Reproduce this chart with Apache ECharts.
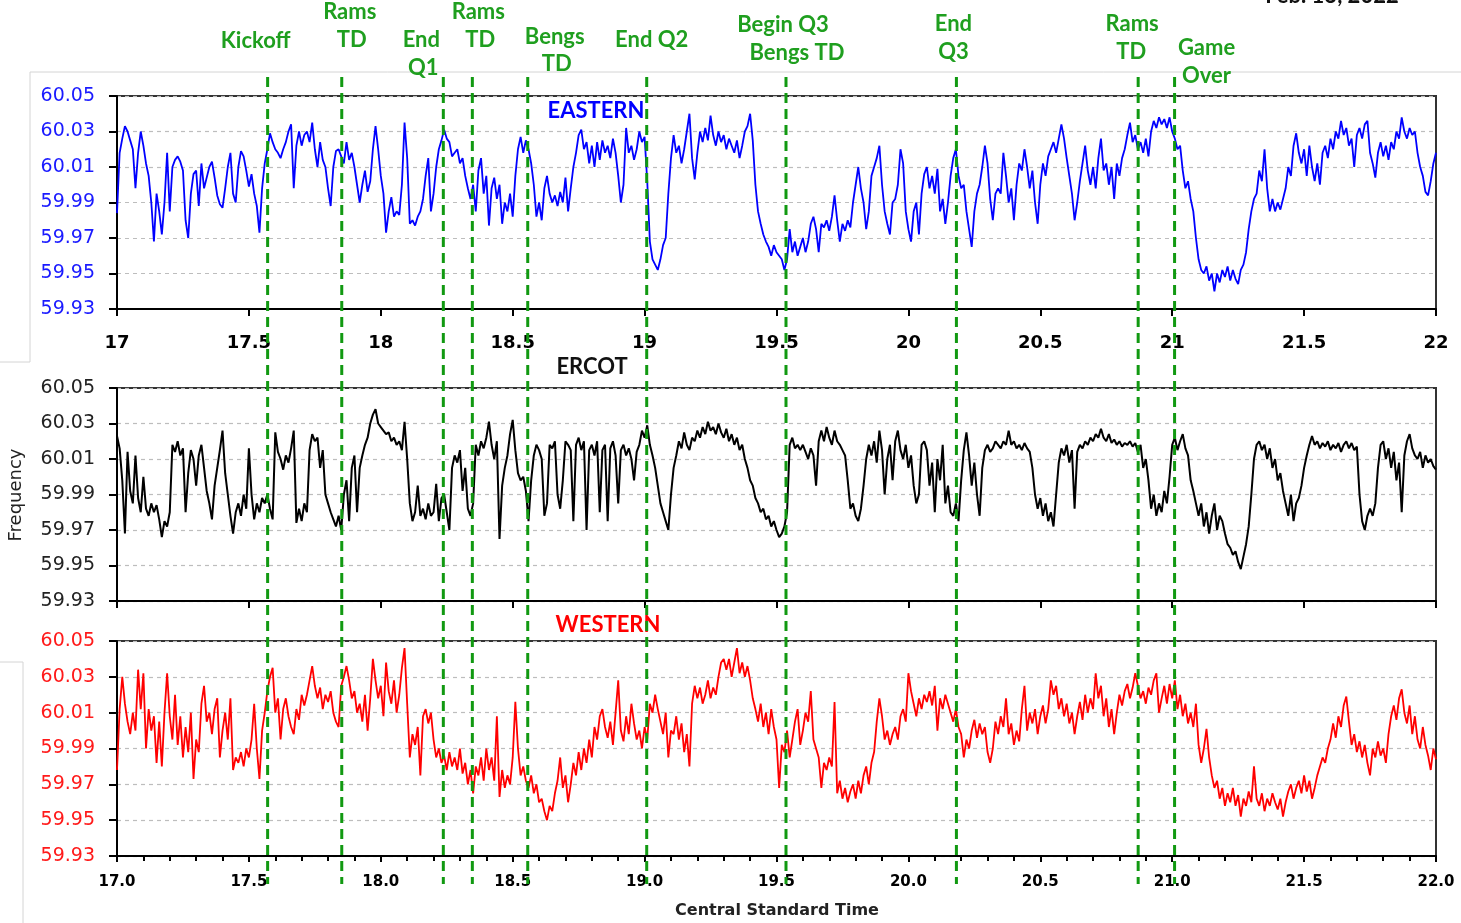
<!DOCTYPE html>
<html><head><meta charset="utf-8">
<script src="https://cdn.jsdelivr.net/npm/echarts@6/dist/echarts.min.js"></script>
<style>html,body{margin:0;padding:0;background:#fff}#chart{width:1461px;height:923px}</style>
</head><body><div id="chart"></div>
<script>
// ---- time base (hours, Central Standard Time) ----
const TIME_START = 17;
const TIME_STEP = 0.01;

// ---- frequency readings (Hz), one value per 0.01 h, 17.00 .. 22.00 ----
const easternHz = [
59.984,60.018,60.026,60.033,60.030,60.025,60.020,59.998,60.018,60.030,
60.022,60.012,60.005,59.990,59.968,59.995,59.985,59.972,59.990,60.018,
59.985,60.010,60.014,60.016,60.013,60.008,59.980,59.970,59.995,60.006,
60.008,59.988,60.012,59.998,60.004,60.010,60.013,60.004,59.994,59.989,
59.987,59.998,60.010,60.018,59.995,59.990,60.010,60.019,60.016,60.008,
59.999,60.006,59.995,59.988,59.973,59.998,60.012,60.020,60.029,60.024,
60.020,60.018,60.015,60.020,60.024,60.030,60.034,59.998,60.022,60.030,
60.022,60.028,60.030,60.024,60.035,60.020,60.010,60.024,60.014,60.010,
59.998,59.988,60.010,60.019,60.020,60.016,60.012,60.024,60.014,60.018,
60.010,60.000,59.990,60.000,60.008,59.996,60.002,60.020,60.033,60.020,
60.005,59.995,59.973,59.985,59.993,59.982,59.985,59.983,60.000,60.035,
60.015,59.978,59.980,59.977,59.982,59.985,59.992,60.005,60.015,59.985,
59.995,60.010,60.020,60.025,60.031,60.026,60.024,60.016,60.018,60.020,
60.012,60.015,60.005,59.998,59.992,60.000,59.985,60.008,60.015,59.995,
60.005,59.977,59.998,60.004,59.992,60.000,59.978,59.990,59.985,59.995,
59.982,60.005,60.020,60.027,60.018,60.025,60.020,60.012,60.000,59.982,
59.990,59.980,59.998,60.005,59.995,59.990,59.994,59.988,59.996,59.990,
60.004,59.985,59.998,60.010,60.018,60.028,60.031,60.020,60.024,60.012,
60.022,60.010,60.024,60.014,60.025,60.018,60.022,60.015,60.026,60.018,
60.005,59.990,60.000,60.032,60.018,60.022,60.014,60.020,60.030,60.024,
60.027,60.002,59.968,59.958,59.955,59.952,59.958,59.966,59.970,59.995,
60.015,60.028,60.018,60.022,60.012,60.020,60.030,60.040,60.015,60.003,
60.018,60.030,60.024,60.032,60.025,60.039,60.028,60.022,60.030,60.024,
60.028,60.020,60.026,60.022,60.018,60.025,60.015,60.022,60.030,60.033,
60.040,60.025,60.000,59.985,59.978,59.972,59.968,59.965,59.960,59.966,
59.962,59.960,59.958,59.952,59.958,59.975,59.962,59.968,59.960,59.965,
59.970,59.962,59.968,59.978,59.982,59.975,59.962,59.978,59.976,59.980,
59.974,59.982,59.994,59.980,59.968,59.978,59.974,59.980,59.976,59.990,
60.000,60.010,59.998,59.990,59.975,59.985,60.005,60.010,60.015,60.022,
60.000,59.985,59.978,59.972,59.990,59.992,60.000,60.020,60.012,59.985,
59.975,59.968,59.985,59.990,59.972,59.995,60.006,60.010,59.998,60.005,
59.995,60.009,59.985,59.992,59.978,59.990,60.005,60.015,60.020,60.005,
59.998,60.000,59.985,59.975,59.965,59.985,59.995,60.000,60.010,60.022,
60.012,59.992,59.980,59.995,59.998,59.995,60.018,60.005,59.990,59.998,
59.980,60.000,60.012,60.008,60.020,60.010,59.998,60.008,59.990,59.978,
60.000,60.012,60.005,60.016,60.020,60.024,60.018,60.026,60.034,60.026,
60.015,60.005,59.995,59.980,59.990,60.002,60.012,60.022,60.008,60.000,
60.010,59.998,60.015,60.026,60.008,60.012,60.000,60.010,59.992,60.012,
60.005,60.015,60.020,60.028,60.035,60.024,60.028,60.020,60.024,60.018,
60.026,60.016,60.030,60.036,60.032,60.038,60.034,60.037,60.032,60.038,
60.030,60.026,60.020,60.022,60.008,59.998,60.002,59.992,59.985,59.970,
59.958,59.952,59.950,59.954,59.946,59.950,59.940,59.950,59.945,59.952,
59.948,59.954,59.946,59.952,59.947,59.944,59.952,59.955,59.962,59.975,
59.985,59.992,59.995,60.008,60.002,60.020,59.998,59.985,59.992,59.985,
59.990,59.986,59.992,59.998,60.010,60.005,60.022,60.029,60.018,60.012,
60.020,60.005,60.022,60.010,60.002,60.012,60.000,60.018,60.022,60.015,
60.026,60.020,60.030,60.026,60.036,60.028,60.032,60.022,60.026,60.010,
60.028,60.032,60.026,60.034,60.036,60.018,60.012,60.004,60.018,60.024,
60.016,60.022,60.014,60.024,60.020,60.030,60.026,60.038,60.030,60.026,
60.032,60.028,60.030,60.018,60.010,60.005,59.996,59.994,60.002,60.012,
60.018];

const ercotHz = [
60.023,60.016,59.998,59.968,60.014,59.992,59.985,60.012,59.988,59.980,
60.000,59.982,59.978,59.985,59.980,59.984,59.976,59.966,59.975,59.972,
59.980,60.018,60.014,60.020,60.012,60.016,59.980,60.002,60.015,60.010,
59.995,60.012,60.018,60.005,59.992,59.985,59.976,59.995,60.005,60.015,
60.026,60.002,59.990,59.978,59.968,59.980,59.985,59.978,59.990,59.982,
60.016,59.990,59.976,59.985,59.980,59.988,59.985,59.990,59.982,59.976,
60.025,60.014,60.010,60.004,60.012,60.008,60.016,60.026,59.974,59.982,
59.975,59.985,59.980,60.015,60.024,60.020,60.022,60.005,60.015,59.990,
59.985,59.980,59.976,59.972,59.978,59.970,59.990,59.998,59.975,60.005,
60.012,59.980,60.005,60.012,60.018,60.022,60.030,60.035,60.038,60.030,
60.028,60.026,60.024,60.025,60.020,60.022,60.018,60.020,60.015,60.031,
60.010,59.985,59.975,59.980,59.995,59.978,59.982,59.976,59.985,59.978,
59.980,59.996,59.975,59.988,59.990,59.980,59.970,60.005,60.012,60.008,
60.015,59.992,60.005,59.982,59.978,59.985,60.018,60.012,60.020,60.016,
60.022,60.031,60.018,60.010,60.020,59.965,59.995,60.005,60.012,60.024,
60.032,60.015,60.002,59.998,60.000,59.992,59.975,59.998,60.012,60.018,
60.015,60.010,59.978,59.985,60.018,60.016,60.020,59.990,59.982,59.998,
60.020,60.018,60.015,59.975,60.018,60.022,60.015,60.020,59.970,60.015,
60.018,60.012,60.020,59.980,60.015,60.018,59.975,60.016,60.020,60.012,
59.985,60.015,60.018,60.012,60.016,60.010,59.998,60.014,60.018,60.026,
60.022,60.029,60.018,60.012,60.005,59.995,59.985,59.980,59.975,59.970,
59.990,60.005,60.012,60.020,60.016,60.025,60.018,60.015,60.022,60.020,
60.026,60.022,60.028,60.024,60.031,60.026,60.028,60.024,60.030,60.025,
60.022,60.027,60.020,60.024,60.018,60.022,60.015,60.018,60.010,60.005,
59.998,59.995,59.988,59.985,59.980,59.982,59.976,59.978,59.972,59.975,
59.970,59.966,59.968,59.972,59.980,60.018,60.022,60.016,60.018,60.015,
60.018,60.014,60.010,60.016,60.012,59.995,60.020,60.026,60.020,60.028,
60.022,60.018,60.026,60.020,60.018,60.015,60.012,59.998,59.982,59.985,
59.978,59.975,59.982,59.995,60.010,60.018,60.012,60.020,60.008,60.026,
60.015,59.990,60.010,60.018,59.998,60.020,60.026,60.015,60.010,60.018,
60.005,60.012,59.995,59.985,59.990,60.018,60.020,60.015,59.995,60.008,
59.980,60.010,59.998,60.018,59.985,59.995,59.980,59.978,59.985,59.975,
59.998,60.015,60.025,60.012,59.995,60.008,59.990,59.978,60.005,60.015,
60.018,60.014,60.016,60.020,60.018,60.016,60.020,60.018,60.026,60.018,
60.020,60.016,60.018,60.015,60.019,60.016,60.014,60.005,59.990,59.982,
59.988,59.978,59.985,59.975,59.980,59.972,59.990,60.008,60.016,60.012,
60.018,60.008,60.015,59.982,60.014,60.018,60.016,60.020,60.018,60.022,
60.020,60.024,60.022,60.027,60.022,60.020,60.024,60.019,60.021,60.018,
60.020,60.017,60.019,60.018,60.020,60.017,60.019,60.014,60.018,60.005,
60.010,59.998,59.982,59.990,59.978,59.985,59.980,59.992,59.985,60.000,
60.018,60.022,60.015,60.020,60.024,60.016,60.012,59.998,59.992,59.985,
59.978,59.985,59.972,59.980,59.968,59.978,59.985,59.970,59.978,59.975,
59.968,59.962,59.960,59.956,59.958,59.952,59.948,59.955,59.962,59.972,
59.990,60.010,60.018,60.020,60.015,60.018,60.010,60.016,60.005,60.010,
59.998,60.002,59.992,59.985,59.978,59.990,59.975,59.985,59.988,59.995,
60.005,60.012,60.018,60.023,60.018,60.020,60.016,60.019,60.017,60.020,
60.015,60.018,60.016,60.019,60.014,60.018,60.020,60.016,60.019,60.015,
60.017,59.990,59.975,59.970,59.978,59.982,59.978,59.985,60.005,60.018,
60.020,60.010,60.016,60.005,60.014,59.998,60.008,59.980,60.012,60.020,
60.024,60.016,60.012,60.010,60.014,60.005,60.012,60.008,60.010,60.006,
60.004];

const westernHz = [
59.978,60.012,60.030,60.015,60.005,59.998,60.010,60.000,60.034,60.012,
60.032,59.990,60.012,60.000,60.008,59.982,60.005,59.980,60.010,60.032,
60.008,59.995,60.020,59.992,60.008,59.985,60.002,59.988,60.010,59.973,
59.995,59.988,60.015,60.025,60.005,60.010,59.998,60.012,60.018,59.985,
60.000,60.010,59.995,60.018,59.978,59.985,59.982,59.988,59.980,59.990,
59.985,59.995,60.015,59.990,59.973,60.000,60.010,60.022,60.030,60.035,
60.010,60.018,59.995,60.012,60.018,60.008,60.002,59.998,60.012,60.006,
60.020,60.014,60.020,60.028,60.036,60.025,60.018,60.024,60.012,60.020,
60.016,60.022,60.010,60.005,60.002,60.025,60.030,60.036,60.028,60.018,
60.022,60.010,60.015,60.005,60.020,60.000,60.018,60.040,60.028,60.018,
60.025,60.008,60.038,60.022,60.015,60.028,60.010,60.020,60.035,60.046,
60.015,59.985,59.998,59.992,60.002,59.975,60.008,60.012,60.004,60.010,
59.995,59.985,59.990,59.982,59.986,59.978,59.988,59.980,59.985,59.978,
59.990,59.976,59.982,59.970,59.978,59.965,59.980,59.975,59.985,59.972,
59.990,59.978,59.985,59.972,60.008,59.963,59.978,59.968,59.975,59.970,
59.985,60.016,59.990,59.975,59.980,59.972,59.968,59.975,59.965,59.970,
59.960,59.962,59.955,59.950,59.958,59.955,59.965,59.972,59.985,59.968,
59.975,59.960,59.970,59.982,59.975,59.988,59.978,59.990,59.982,59.995,
59.985,60.002,59.995,60.008,60.012,60.002,59.996,60.005,59.992,60.010,
60.028,60.000,59.994,60.008,59.998,60.015,60.004,59.995,60.000,59.990,
60.002,59.995,60.015,60.010,60.020,60.012,60.005,59.998,60.010,59.985,
60.000,59.998,60.008,59.995,60.004,59.988,59.998,59.980,60.015,60.025,
60.018,60.024,60.015,60.020,60.028,60.018,60.024,60.020,60.030,60.038,
60.040,60.034,60.040,60.030,60.038,60.046,60.032,60.038,60.030,60.036,
60.028,60.018,60.012,60.005,60.015,60.002,60.010,59.998,60.012,60.002,
59.995,59.968,59.992,59.988,60.000,59.985,59.995,60.005,60.012,59.992,
60.000,60.010,60.005,60.022,59.995,59.990,59.985,59.968,59.982,59.978,
59.985,59.980,60.016,59.965,59.972,59.962,59.968,59.960,59.966,59.970,
59.962,59.972,59.965,59.975,59.980,59.970,59.982,59.988,60.005,60.018,
60.008,59.995,60.000,59.992,59.998,60.002,59.995,60.008,60.012,60.005,
60.032,60.022,60.015,60.008,60.018,60.012,60.020,60.016,60.022,60.014,
60.025,60.000,60.018,60.012,60.020,60.015,60.010,60.005,60.012,60.002,
59.998,59.985,59.995,59.990,60.000,60.006,59.996,60.004,59.998,60.002,
59.988,59.982,59.990,60.005,59.998,60.008,60.002,60.018,59.998,60.004,
59.992,60.000,59.994,60.012,60.025,60.000,60.010,60.004,60.012,59.998,
60.008,60.014,60.004,60.012,60.028,60.020,60.025,60.012,60.018,60.008,
60.015,60.004,60.010,59.998,60.008,60.016,60.006,60.020,60.010,60.018,
60.012,60.032,60.018,60.025,60.008,60.018,60.002,60.012,59.998,60.010,
60.020,60.014,60.022,60.026,60.018,60.024,60.032,60.025,60.018,60.022,
60.015,60.024,60.020,60.028,60.032,60.010,60.018,60.025,60.015,60.026,
60.018,60.028,60.012,60.020,60.008,60.015,60.004,60.010,60.002,60.015,
59.992,59.982,59.990,60.001,59.985,59.975,59.968,59.972,59.962,59.968,
59.958,59.965,59.960,59.968,59.958,59.964,59.952,59.962,59.958,59.966,
59.960,59.980,59.962,59.958,59.965,59.955,59.962,59.958,59.965,59.960,
59.956,59.962,59.952,59.960,59.966,59.970,59.962,59.968,59.972,59.965,
59.975,59.966,59.972,59.962,59.968,59.975,59.980,59.985,59.982,59.990,
59.995,60.004,59.996,60.008,60.002,60.014,60.019,60.005,59.992,59.998,
59.988,59.994,59.985,59.992,59.982,59.975,59.990,59.985,59.994,59.986,
59.990,59.982,59.998,60.008,60.014,60.006,60.018,60.023,60.010,60.004,
60.014,59.998,60.008,59.995,59.990,60.002,59.992,59.986,59.978,59.990,
59.984];

// ---- axes ----
const X_MIN = 17, X_MAX = 22, X_INTERVAL = 0.5;
const Y_MIN = 59.93, Y_MAX = 60.05, Y_INTERVAL = 0.02;

// ---- game events (time in hours) and their label texts ----
const eventTimes  = [17.571, 17.852, 18.237, 18.347, 18.557, 19.008, 19.536, 20.182, 20.871, 21.009];
const eventLabels = [
  ['Kickoff'], ['Rams', 'TD'], ['End', 'Q1'], ['Rams', 'TD'], ['Bengs', 'TD'],
  ['End Q2'], ['Begin Q3', 'Bengs TD'], ['End', 'Q3'], ['Rams', 'TD'], ['Game', 'Over']
];
// label placement (layout only): [dx from line, y] per text line
const eventLabelPlacement = [
  [[-12, 41]], [[8, 12], [10, 40]], [[-22, 40], [-20, 68]], [[6, 12], [8, 40]], [[27, 37], [29, 64]],
  [[5, 40]], [[-3, 25], [11, 53]], [[-3, 24], [-3, 52]], [[-6, 24], [-7, 52]], [[32, 48], [32, 76]]
];

const panelNames = ['EASTERN', 'ERCOT', 'WESTERN'];
const panelData = [easternHz, ercotHz, westernHz];
const lineColors = ['#0000ff', '#000000', '#ff0000'];
const lineWidths = [1.8, 2, 1.8];
const labelColors = ['#1a1aff', '#222222', '#ff1a1a'];

const grids = [
  {left: 117, top: 96, width: 1319, height: 213},
  {left: 117, top: 388, width: 1319, height: 213},
  {left: 117, top: 641, width: 1319, height: 215}
];

const toPairs = arr => arr.map((v, i) => [+(TIME_START + i * TIME_STEP).toFixed(2), v]);

const chart = echarts.init(document.getElementById('chart'), null, {renderer: 'canvas'});

const xAxes = grids.map((g, i) => ({
  gridIndex: i, type: 'value', min: X_MIN, max: X_MAX, interval: X_INTERVAL,
  axisLine: {show: true, onZero: false, lineStyle: {color: '#000', width: 2}},
  axisTick: {show: true, inside: false, length: i === 2 ? 6 : 7, lineStyle: {color: '#000', width: 2}},
  minorTick: {show: i === 2, splitNumber: 5, length: 5, lineStyle: {color: '#000', width: 2}},
  splitLine: {show: false},
  axisLabel: i === 0 ? {
    show: true, margin: 25, color: '#000', fontFamily: 'DejaVu Sans', fontWeight: 'bold', fontSize: 18,
    formatter: v => String(+v.toFixed(1))
  } : i === 2 ? {
    show: true, margin: 19, color: '#000', fontFamily: 'DejaVu Sans', fontWeight: 'bold', fontSize: 15,
    formatter: v => v.toFixed(1)
  } : {show: false}
}));

const yAxes = grids.map((g, i) => ({
  gridIndex: i, type: 'value', min: Y_MIN, max: Y_MAX, interval: Y_INTERVAL,
  axisLine: {show: true, lineStyle: {color: '#000', width: 2}},
  axisTick: {show: true, inside: false, length: 8, lineStyle: {color: '#000', width: 2}},
  splitLine: {show: true, lineStyle: {color: '#bdbdbd', type: [4, 4], width: 1.2}},
  axisLabel: {
    show: true, margin: 22, color: labelColors[i], fontFamily: 'DejaVu Sans', fontSize: 19,
    formatter: v => v.toFixed(2)
  }
}));

const series = panelData.map((arr, i) => ({
  type: 'line', xAxisIndex: i, yAxisIndex: i, data: toPairs(arr),
  showSymbol: false, symbol: 'none', smooth: false, sampling: null,
  lineStyle: {color: lineColors[i], width: lineWidths[i]}, itemStyle: {color: lineColors[i]},
  animation: false, silent: true, z: 3
}));

chart.setOption({
  backgroundColor: '#ffffff',
  animation: false,
  grid: grids.map(g => Object.assign({show: true, borderColor: '#333', borderWidth: 2, backgroundColor: 'transparent'}, g)),
  xAxis: xAxes,
  yAxis: yAxes,
  series: series
});

// ---- overlay: event lines, labels, titles ----
const graphics = [];
const LINE_TOP = 77, LINE_BOTTOM = 884;
const green = '#119911';
const greenText = '#1f9f1f';

eventTimes.forEach((t, k) => {
  const x = chart.convertToPixel({xAxisIndex: 0}, t);
  graphics.push({
    type: 'line', z: 100, silent: true,
    shape: {x1: x, y1: LINE_TOP, x2: x, y2: LINE_BOTTOM},
    style: {stroke: green, lineWidth: 3, lineDash: [10, 6]}
  });
  eventLabels[k].forEach((txt, j) => {
    const p = eventLabelPlacement[k][j];
    graphics.push({
      type: 'text', z: 101, silent: true, x: x + p[0], y: p[1],
      style: {text: txt, fill: greenText, font: 'bold 22px Lato', align: 'center', verticalAlign: 'middle'}
    });
  });
});

const titlePos = [[596, 111], [592, 367], [608, 625]];
const titleColors = ['#0000ff', '#111111', '#ff0000'];
panelNames.forEach((n, i) => {
  graphics.push({
    type: 'text', z: 90, silent: true, x: titlePos[i][0], y: titlePos[i][1],
    style: {text: n, fill: titleColors[i], font: 'bold 22px Lato', align: 'center', verticalAlign: 'middle'}
  });
});

graphics.push({
  type: 'text', silent: true, x: 16, y: 495, rotation: Math.PI / 2,
  style: {text: 'Frequency', fill: '#222', font: '18px DejaVu Sans', align: 'center', verticalAlign: 'middle'}
});
graphics.push({
  type: 'text', silent: true, x: 777, y: 911,
  style: {text: 'Central Standard Time', fill: '#222', font: 'bold 16px DejaVu Sans', align: 'center', verticalAlign: 'middle'}
});
graphics.push({
  type: 'text', silent: true, x: 1332, y: -4,
  style: {text: 'Feb. 13, 2022', fill: '#111', font: 'bold 22px Lato', align: 'center', verticalAlign: 'middle'}
});

// faint frame remnants of the pasted panels
const frameStyle = {stroke: '#d4d4d4', lineWidth: 1};
[[30, 72, 1461, 72], [30, 72, 30, 362], [0, 362, 30, 362], [0, 662, 23, 662], [23, 662, 23, 923]].forEach(s => {
  graphics.push({type: 'line', silent: true, z: 1, shape: {x1: s[0], y1: s[1], x2: s[2], y2: s[3]}, style: frameStyle});
});

chart.setOption({graphic: graphics});
</script>
</body></html>
